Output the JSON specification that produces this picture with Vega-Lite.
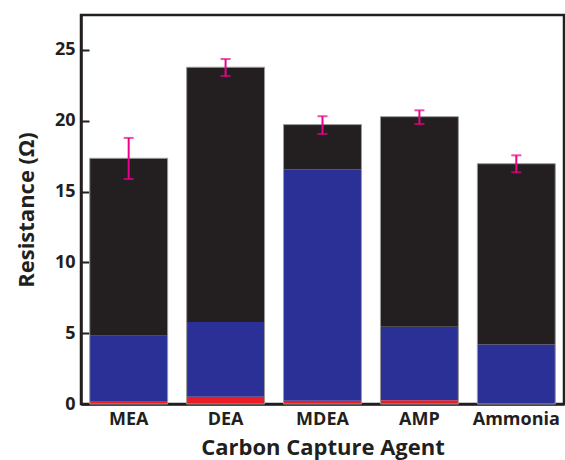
{
  "$schema": "https://vega.github.io/schema/vega-lite/v6.json",
  "width": 483,
  "height": 389,
  "autosize": {"type": "none"},
  "padding": {"left": 81, "top": 15, "right": 1, "bottom": 56},
  "background": "white",
  "config": {
    "view": {"stroke": "#231f20", "strokeWidth": 2.5},
    "font": "Open Sans",
    "axis": {"domainColor": "#231f20", "domainWidth": 2.5, "tickColor": "#231f20", "tickWidth": 2, "labelColor": "#231f20", "titleColor": "#231f20", "grid": false}
  },
  "datasets": {
    "segments": [
      {"agent": "MEA", "component": "R3", "ord": 1, "value": 0.16},
      {"agent": "MEA", "component": "R2", "ord": 2, "value": 4.66},
      {"agent": "MEA", "component": "R1", "ord": 3, "value": 12.53},
      {"agent": "DEA", "component": "R3", "ord": 1, "value": 0.52},
      {"agent": "DEA", "component": "R2", "ord": 2, "value": 5.27},
      {"agent": "DEA", "component": "R1", "ord": 3, "value": 17.99},
      {"agent": "MDEA", "component": "R3", "ord": 1, "value": 0.23},
      {"agent": "MDEA", "component": "R2", "ord": 2, "value": 16.34},
      {"agent": "MDEA", "component": "R1", "ord": 3, "value": 3.16},
      {"agent": "AMP", "component": "R3", "ord": 1, "value": 0.26},
      {"agent": "AMP", "component": "R2", "ord": 2, "value": 5.2},
      {"agent": "AMP", "component": "R1", "ord": 3, "value": 14.83},
      {"agent": "Ammonia", "component": "R3", "ord": 1, "value": 0.05},
      {"agent": "Ammonia", "component": "R2", "ord": 2, "value": 4.16},
      {"agent": "Ammonia", "component": "R1", "ord": 3, "value": 12.76}
    ],
    "errors": [
      {"agent": "MEA", "lo": 15.89, "hi": 18.79},
      {"agent": "DEA", "lo": 23.16, "hi": 24.36},
      {"agent": "MDEA", "lo": 19.07, "hi": 20.32},
      {"agent": "AMP", "lo": 19.77, "hi": 20.74},
      {"agent": "Ammonia", "lo": 16.36, "hi": 17.56}
    ]
  },
  "layer": [
    {
      "data": {"name": "segments"},
      "mark": {"type": "bar"},
      "encoding": {
        "x": {
          "field": "agent", "type": "nominal", "sort": ["MEA", "DEA", "MDEA", "AMP", "Ammonia"],
          "scale": {"paddingInner": 0.196, "paddingOuter": 0.09},
          "axis": {"title": "Carbon Capture Agent", "labelAngle": 0, "ticks": false, "labelPadding": 6, "labelFontSize": 18, "labelFontWeight": "bold", "titleFontSize": 22, "titleFontWeight": "bold", "titlePadding": 9}
        },
        "y": {
          "field": "value", "type": "quantitative", "stack": "zero",
          "scale": {"domain": [0, 27.47], "nice": false},
          "axis": {"title": "Resistance (Ω)", "values": [0, 5, 10, 15, 20, 25], "tickSize": -8, "labelPadding": 14, "labelFontSize": 18, "labelFontWeight": "bold", "titleFontSize": 22, "titleFontWeight": "bold", "titlePadding": 16}
        },
        "color": {
          "field": "component", "type": "nominal",
          "scale": {"domain": ["R1", "R2", "R3"], "range": ["#231f20", "#2b3097", "#ed1c24"]},
          "legend": null
        },
        "order": {"field": "ord", "type": "quantitative"}
      }
    },
    {
      "data": {"name": "segments"},
      "transform": [{"aggregate": [{"op": "sum", "field": "value", "as": "total"}], "groupby": ["agent"]}],
      "mark": {"type": "bar", "fillOpacity": 0, "stroke": "#9a9a9a", "strokeWidth": 1},
      "encoding": {
        "x": {"field": "agent", "type": "nominal", "sort": ["MEA", "DEA", "MDEA", "AMP", "Ammonia"]},
        "y": {"field": "total", "type": "quantitative"}
      }
    },
    {
      "data": {"name": "errors"},
      "mark": {"type": "rule", "color": "#ec008c", "strokeWidth": 2},
      "encoding": {
        "x": {"field": "agent", "type": "nominal", "sort": ["MEA", "DEA", "MDEA", "AMP", "Ammonia"]},
        "y": {"field": "lo", "type": "quantitative"},
        "y2": {"field": "hi"}
      }
    },
    {
      "data": {"name": "errors"},
      "mark": {"type": "tick", "color": "#ec008c", "thickness": 2, "size": 10, "orient": "horizontal"},
      "encoding": {
        "x": {"field": "agent", "type": "nominal", "sort": ["MEA", "DEA", "MDEA", "AMP", "Ammonia"]},
        "y": {"field": "lo", "type": "quantitative"}
      }
    },
    {
      "data": {"name": "errors"},
      "mark": {"type": "tick", "color": "#ec008c", "thickness": 2, "size": 10, "orient": "horizontal"},
      "encoding": {
        "x": {"field": "agent", "type": "nominal", "sort": ["MEA", "DEA", "MDEA", "AMP", "Ammonia"]},
        "y": {"field": "hi", "type": "quantitative"}
      }
    }
  ]
}
